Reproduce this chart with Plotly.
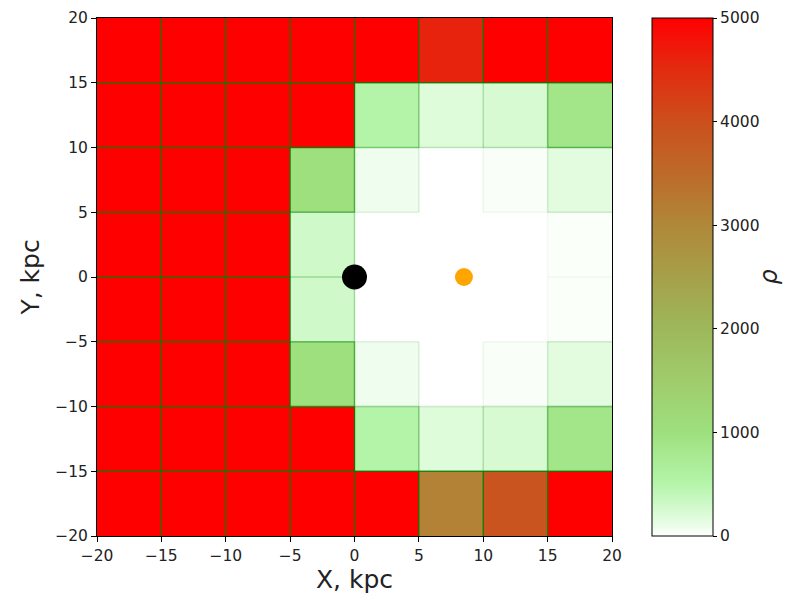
import numpy as np
import plotly.graph_objects as go

# cell centres (kpc)
x_centers = [-17.5, -12.5, -7.5, -2.5, 2.5, 7.5, 12.5, 17.5]
y_centers = [-17.5, -12.5, -7.5, -2.5, 2.5, 7.5, 12.5, 17.5]

# density per cell, rows from bottom (y=-17.5) to top (y=17.5)
row_m175 = [5000, 5000, 5000, 5000, 5000, 3100, 3900, 5000]
row_m125 = [5000, 5000, 5000, 5000, 520, 190, 240, 880]
row_m75 = [5000, 5000, 5000, 1000, 80, 0, 30, 150]
row_m25 = [5000, 5000, 5000, 300, 0, 0, 0, 20]
row_p25 = [5000, 5000, 5000, 300, 0, 0, 0, 20]
row_p75 = [5000, 5000, 5000, 1000, 80, 0, 30, 150]
row_p125 = [5000, 5000, 5000, 5000, 520, 190, 240, 880]
row_p175 = [5000, 5000, 5000, 5000, 5000, 4600, 5000, 5000]
rho = [row_m175, row_m125, row_m75, row_m25, row_p25, row_p75, row_p125, row_p175]

# points
center_x, center_y = [0.0], [0.0]
sun_x, sun_y = [8.5], [0.0]

colorscale = [
    [0.0, "#ffffff"],
    [0.02, "#eafde8"],
    [0.1, "#b4f5aa"],
    [0.2, "#9ee07e"],
    [0.3, "#a0cc6c"],
    [0.4, "#9db85a"],
    [0.5, "#a6a04a"],
    [0.6, "#b0883a"],
    [0.7, "#bd6a2a"],
    [0.8, "#cc4f1c"],
    [0.9, "#e22c10"],
    [1.0, "#ff0000"],
]

fig = go.Figure()

fig.add_trace(go.Heatmap(
    x=x_centers, y=y_centers, z=rho, zmin=0, zmax=5000,
    colorscale=colorscale,
    colorbar=dict(
        x=1.059, xanchor="left", y=0.5, yanchor="middle", len=1.0, lenmode="fraction",
        ypad=0, thickness=61, outlinecolor="black", outlinewidth=1,
        tickvals=[0, 1000, 2000, 3000, 4000, 5000],
        ticks="outside", ticklen=4, tickcolor="black",
        tickfont=dict(family="DejaVu Sans", size=15.5, color="#222"),
    ),
    hoverinfo="skip",
))

# cell edges, green with opacity growing with cell density
z = np.array(rho, dtype=float)
def edge_alpha(v):
    return round(0.8 * min(1.0, (v / 2000.0) ** 0.6), 2)

edges = {}
n = len(x_centers)
for j in range(n):
    for i in range(n - 1):
        a = edge_alpha(max(z[j, i], z[j, i + 1]))
        xe = x_centers[i] + 2.5
        edges.setdefault(a, []).append(((xe, xe), (y_centers[j] - 2.5, y_centers[j] + 2.5)))
for i in range(n):
    for j in range(n - 1):
        a = edge_alpha(max(z[j, i], z[j + 1, i]))
        ye = y_centers[j] + 2.5
        edges.setdefault(a, []).append(((x_centers[i] - 2.5, x_centers[i] + 2.5), (ye, ye)))

for a, segs in sorted(edges.items()):
    if a <= 0.01:
        continue
    xs, ys = [], []
    for (x0, x1), (y0, y1) in segs:
        xs += [x0, x1, None]
        ys += [y0, y1, None]
    fig.add_trace(go.Scatter(x=xs, y=ys, mode="lines",
                             line=dict(color=f"rgba(0,128,0,{a})", width=1.5),
                             showlegend=False, hoverinfo="skip"))

fig.add_trace(go.Scatter(x=center_x, y=center_y, mode="markers",
                         marker=dict(color="black", size=25), showlegend=False, hoverinfo="skip"))
fig.add_trace(go.Scatter(x=sun_x, y=sun_y, mode="markers",
                         marker=dict(color="orange", size=18), showlegend=False, hoverinfo="skip"))

fig.update_layout(
    width=794, height=594,
    margin=dict(l=89, r=190, t=10, b=66, autoexpand=False),
    paper_bgcolor="white", plot_bgcolor="white",
    font=dict(family="DejaVu Sans", color="#222"),
    showlegend=False,
    annotations=[dict(text="<i>ρ</i>", xref="paper", yref="paper", x=1.335, y=0.5,
                      showarrow=False, textangle=-90, font=dict(size=24, color="#222"))],
)
fig.update_xaxes(range=[-20, 20], tickvals=[-20, -15, -10, -5, 0, 5, 10, 15, 20],
                 ticks="outside", ticklen=5, tickcolor="black", showgrid=False, zeroline=False,
                 showline=True, linecolor="black", linewidth=1, mirror=True,
                 tickfont=dict(size=15.5), title=dict(text="X, kpc", font=dict(size=25), standoff=6))
fig.update_yaxes(range=[-20, 20], tickvals=[-20, -15, -10, -5, 0, 5, 10, 15, 20],
                 ticks="outside", ticklen=5, tickcolor="black", showgrid=False, zeroline=False,
                 showline=True, linecolor="black", linewidth=1, mirror=True,
                 tickfont=dict(size=15.5), title=dict(text="Y, kpc", font=dict(size=25), standoff=8))

fig.write_html("out.html")
